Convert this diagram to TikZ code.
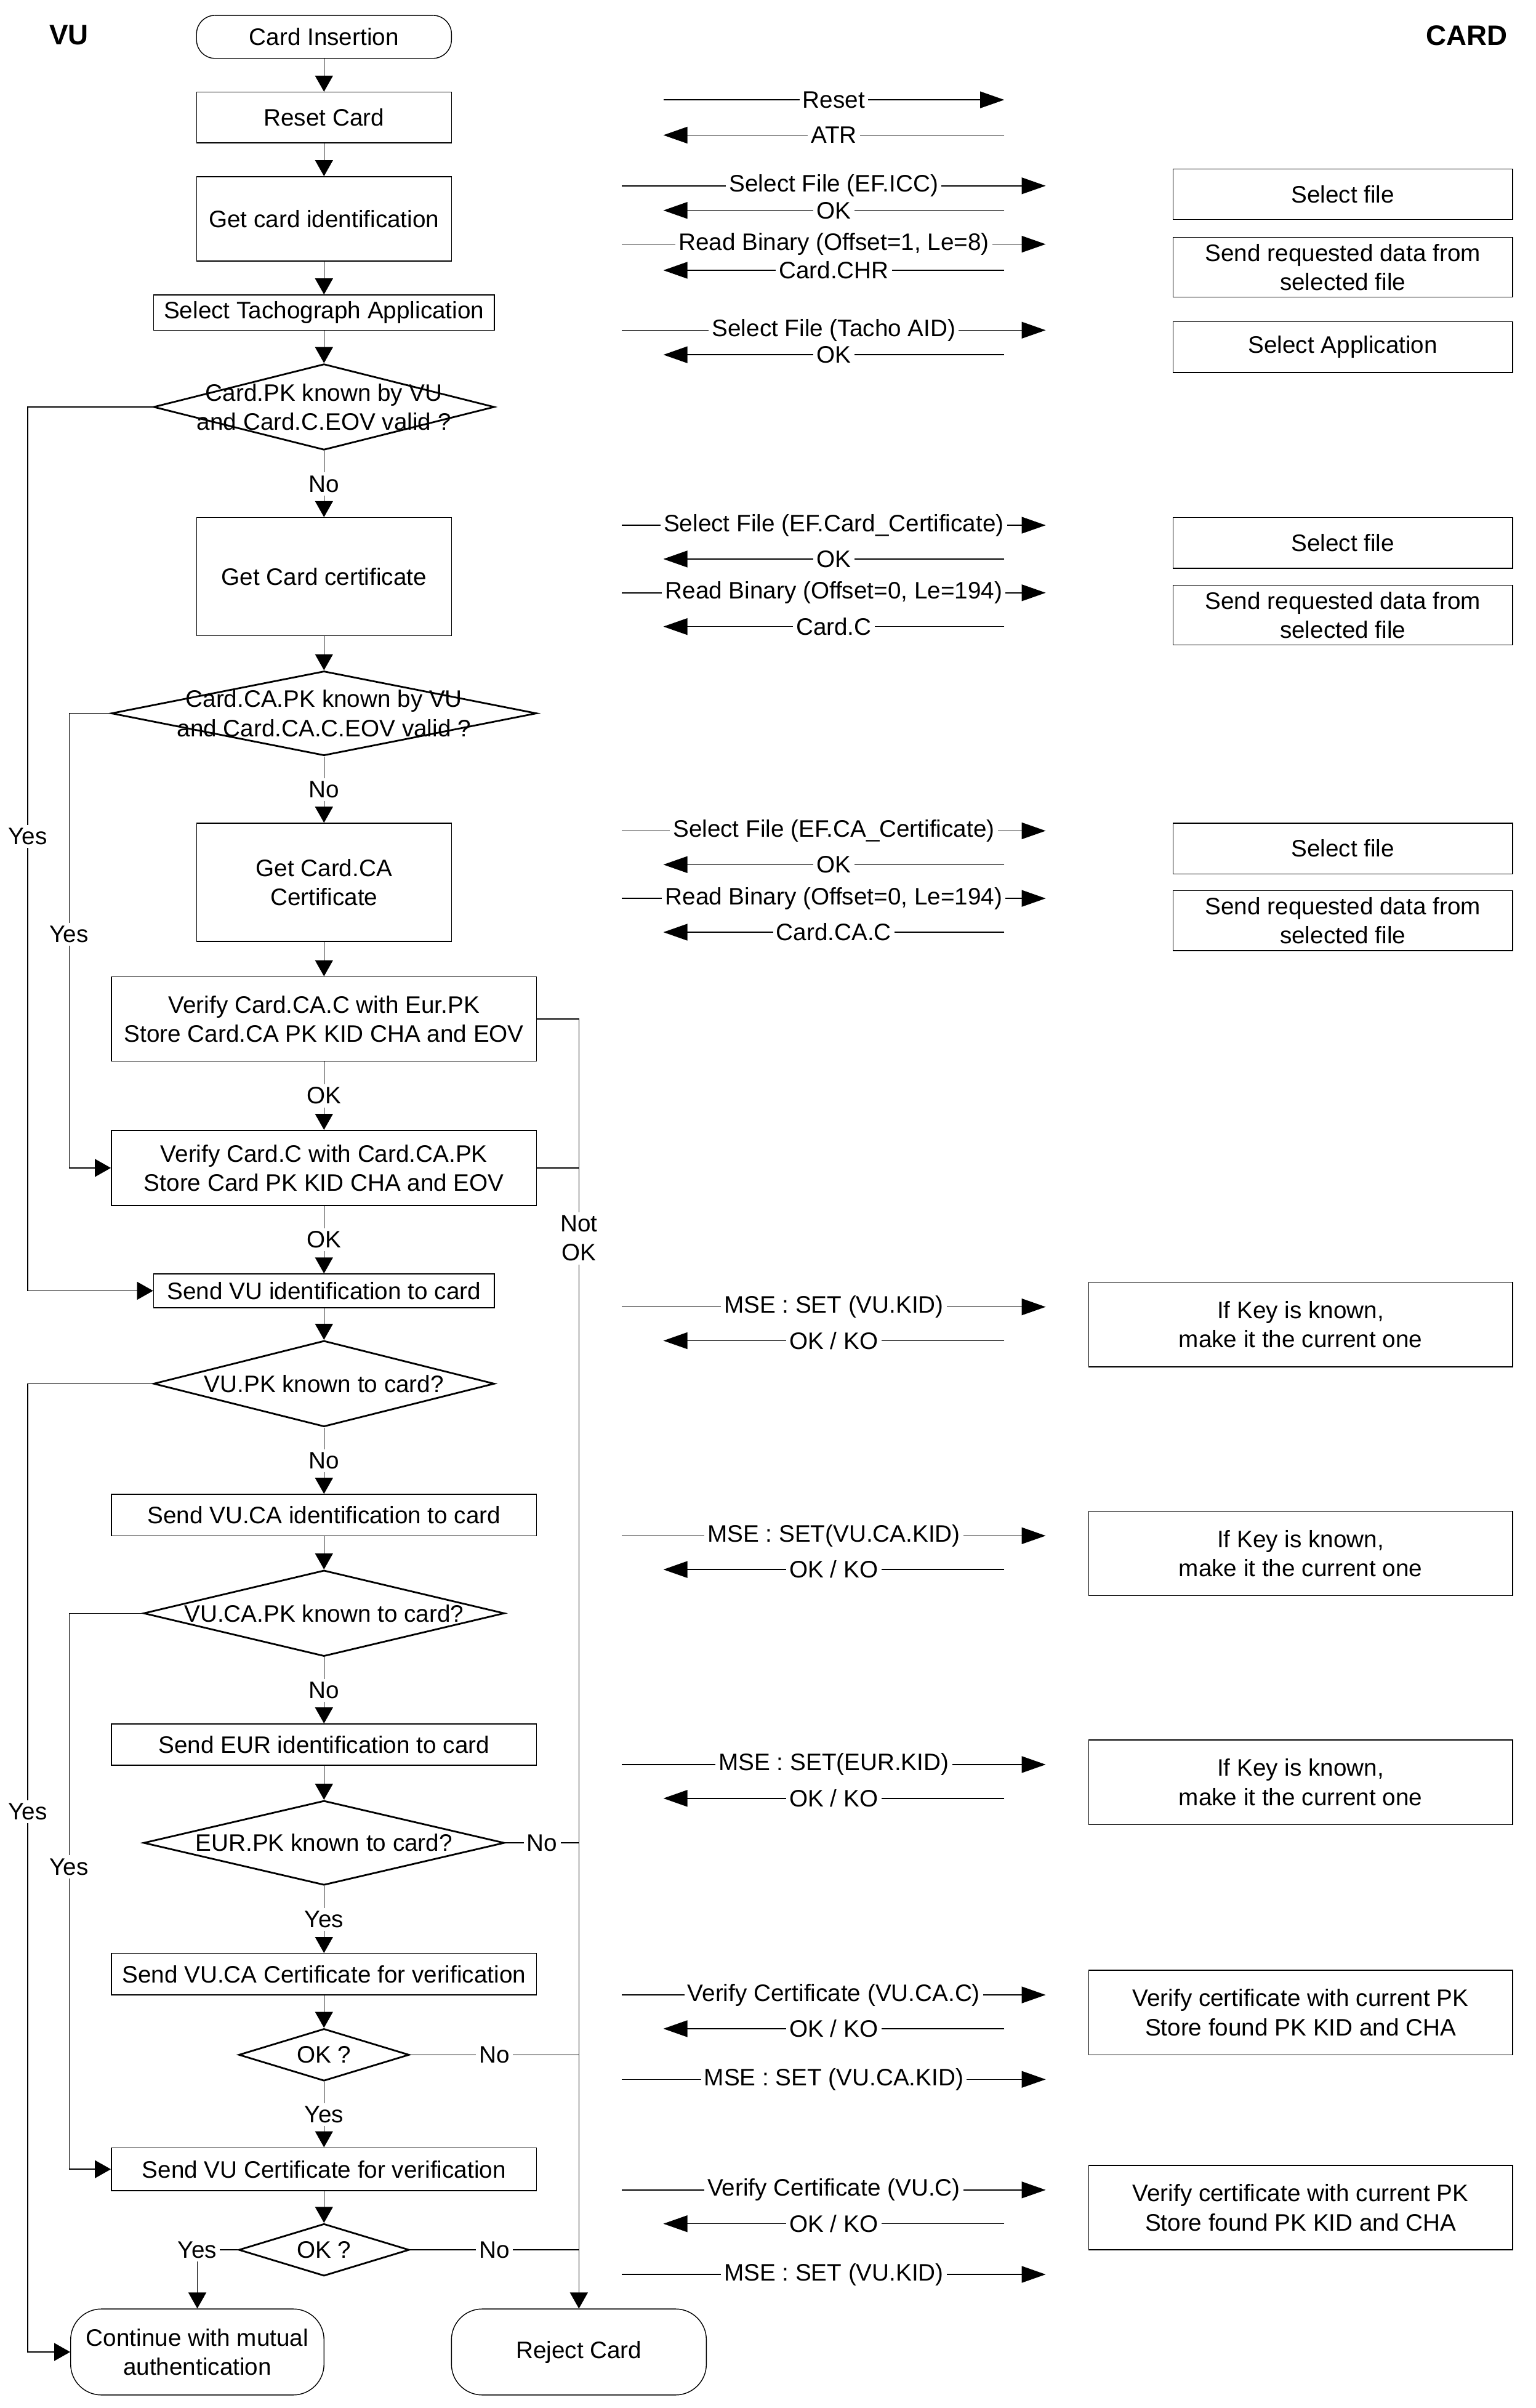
\documentclass[tikz,border=0pt]{standalone}
\usepackage{fontspec}
\setmainfont{Liberation Sans}
\usetikzlibrary{arrows.meta,positioning,shapes.geometric}
\def\un{0.02494cm}

\begin{document}
\begin{tikzpicture}[x=\un, y=-\un, font=\fontsize{11}{13.5}\selectfont]
  \tikzstyle{box}=[draw, thin, align=center, inner sep=1pt]
  \tikzstyle{term}=[draw, thin, align=center, inner sep=1pt]
  \tikzstyle{dec}=[draw, diamond, line width=0.8pt, inner sep=0pt]
  \tikzstyle{cardbox}=[draw, thin, align=center, inner sep=1pt]
  \tikzstyle{lbl}=[fill=white, align=center, inner sep=1.5pt]
  \tikzstyle{arr}=[-{Triangle[length=0.26cm,width=0.29cm]}, thin]
  \tikzstyle{msg}=[-{Triangle[length=0.39cm,width=0.27cm]}, thin]
  \tikzstyle{head}=[font=\fontsize{13}{15}\selectfont\bfseries]
  \useasboundingbox (0,0) rectangle (1000,1568);

  \node[head] (vu) at (45,23) {VU};
  \node[head] (card) at (955,23) {CARD};

  % VU side
  \node[term, rounded corners=0.3cm, minimum width=166*\un, minimum height=28*\un] (start) at (211,24) {Card Insertion};
  \node[box, minimum width=166*\un, minimum height=33*\un] (reset) at (211,76.5) {Reset Card};
  \node[box, minimum width=166*\un, minimum height=55*\un] (getid) at (211,142.5) {Get card identification};
  \node[box, minimum width=222*\un, minimum height=23*\un] (selapp) at (211,203.5) {Select Tachograph Application};
  \node[dec, minimum width=222*\un, minimum height=56*\un,
        label={[align=center]center:Card.PK known by VU\\and Card.C.EOV valid ?}] (dpk) at (211,265) {};
  \node[box, minimum width=166*\un, minimum height=77*\un] (getc) at (211,375.5) {Get Card certificate};
  \node[dec, minimum width=277*\un, minimum height=55*\un,
        label={[align=center]center:Card.CA.PK known by VU\\and Card.CA.C.EOV valid ?}] (dca) at (211,464.5) {};
  \node[box, minimum width=166*\un, minimum height=77*\un] (getca) at (211,574.5) {Get Card.CA\\Certificate};
  \node[box, minimum width=277*\un, minimum height=55*\un] (vca) at (211,663.5) {Verify Card.CA.C with Eur.PK\\Store Card.CA PK KID CHA and EOV};
  \node[box, minimum width=277*\un, minimum height=49*\un] (vc) at (211,760.5) {Verify Card.C with Card.CA.PK\\Store Card PK KID CHA and EOV};
  \node[box, minimum width=222*\un, minimum height=22*\un] (svu) at (211,840.5) {Send VU identification to card};
  \node[dec, minimum width=222*\un, minimum height=56*\un,
        label={center:VU.PK known to card?}] (dvu) at (211,901) {};
  \node[box, minimum width=277*\un, minimum height=27*\un] (svuca) at (211,986.5) {Send VU.CA identification to card};
  \node[dec, minimum width=235*\un, minimum height=56*\un,
        label={center:VU.CA.PK known to card?}] (dvuca) at (211,1050.5) {};
  \node[box, minimum width=277*\un, minimum height=27*\un] (seur) at (211,1136) {Send EUR identification to card};
  \node[dec, minimum width=235*\un, minimum height=55*\un,
        label={center:EUR.PK known to card?}] (deur) at (211,1200) {};
  \node[box, minimum width=277*\un, minimum height=27*\un] (svucac) at (211,1285.5) {Send VU.CA Certificate for verification};
  \node[dec, minimum width=111*\un, minimum height=34*\un, label={center:OK ?}] (ok1) at (211,1338) {};
  \node[box, minimum width=277*\un, minimum height=28*\un] (svuc) at (211,1412.5) {Send VU Certificate for verification};
  \node[dec, minimum width=111*\un, minimum height=34*\un, label={center:OK ?}] (ok2) at (211,1465) {};
  \node[term, rounded corners=0.5cm, minimum width=165*\un, minimum height=56*\un] (cont) at (128.5,1531.5) {Continue with mutual\\authentication};
  \node[term, rounded corners=0.5cm, minimum width=166*\un, minimum height=56*\un] (rej) at (377,1531.5) {Reject Card};

  \coordinate (loopA) at (18,0);
  \coordinate (loopB) at (45,0);

  \draw[arr] (start) -- (reset);
  \draw[arr] (reset) -- (getid);
  \draw[arr] (getid) -- (selapp);
  \draw[arr] (selapp) -- (dpk);
  \draw[arr] (dpk) -- node[lbl]{No} (getc);
  \draw[arr] (getc) -- (dca);
  \draw[arr] (dca) -- node[lbl]{No} (getca);
  \draw[arr] (getca) -- (vca);
  \draw[arr] (vca) -- node[lbl]{OK} (vc);
  \draw[arr] (vc) -- node[lbl]{OK} (svu);
  \draw[arr] (svu) -- (dvu);
  \draw[arr] (dvu) -- node[lbl]{No} (svuca);
  \draw[arr] (svuca) -- (dvuca);
  \draw[arr] (dvuca) -- node[lbl]{No} (seur);
  \draw[arr] (seur) -- (deur);
  \draw[arr] (deur) -- node[lbl]{Yes} (svucac);
  \draw[arr] (svucac) -- (ok1);
  \draw[arr] (ok1) -- node[lbl]{Yes} (svuc);
  \draw[arr] (svuc) -- (ok2);

  % Yes branches on the left
  \draw[arr] (dpk.west) -- (dpk.west -| loopA) |- node[lbl, pos=0.243]{Yes} (svu.west);
  \draw[arr] (dca.west) -- (dca.west -| loopB) |- node[lbl, pos=0.243]{Yes} (vc.west);
  \draw[arr] (dvu.west) -- (dvu.west -| loopA) |- node[lbl, pos=0.221]{Yes} (cont.west);
  \draw[arr] (dvuca.west) -- (dvuca.west -| loopB) |- node[lbl, pos=0.228]{Yes} (svuc.west);
  \draw[arr] (ok2.west) -| node[lbl]{Yes} (cont.north);

  % failures to Reject Card
  \draw[arr] (vca.east) -| node[lbl, pos=0.585]{Not\\OK} (rej.north);
  \draw (vc.east) -- (vc.east -| rej.north);
  \draw (deur.east) -- node[lbl]{No} (deur.east -| rej.north);
  \draw (ok1.east) -- node[lbl]{No} (ok1.east -| rej.north);
  \draw (ok2.east) -- node[lbl]{No} (ok2.east -| rej.north);

  % commands VU -> card
  \coordinate (rsA) at (432,65);
  \coordinate (rsB) at (654,65);
  \draw[msg] (rsA) -- node[lbl]{Reset} (rsB);
  \foreach \yy/\txt in {121/Select File (EF.ICC), 159/{Read Binary (Offset=1, Le=8)},
      215/Select File (Tacho AID), 342/Select File (EF.Card\_Certificate),
      386/{Read Binary (Offset=0, Le=194)}, 541/Select File (EF.CA\_Certificate),
      585/{Read Binary (Offset=0, Le=194)}, 851/MSE : SET (VU.KID),
      1000/MSE : SET(VU.CA.KID), 1149/MSE : SET(EUR.KID),
      1299/Verify Certificate (VU.CA.C), 1354/MSE : SET (VU.CA.KID),
      1426/Verify Certificate (VU.C), 1481/MSE : SET (VU.KID)}
  {
    \coordinate (q\yy) at (405,\yy);
    \coordinate (qe\yy) at (681,\yy);
    \draw[msg] (q\yy) -- node[lbl]{\txt} (qe\yy);
  }
  % responses card -> VU
  \foreach \yy/\txt in {88/ATR, 137/OK, 176/Card.CHR, 231/OK, 364/OK, 408/Card.C,
      563/OK, 607/Card.CA.C, 873/{OK / KO}, 1022/{OK / KO}, 1171/{OK / KO},
      1321/{OK / KO}, 1448/{OK / KO}}
  {
    \coordinate (r\yy) at (654,\yy);
    \coordinate (re\yy) at (432,\yy);
    \draw[msg] (r\yy) -- node[lbl]{\txt} (re\yy);
  }

  % card side
  \node[cardbox, minimum width=221*\un, minimum height=33*\un] (c1) at (874.5,126.5) {Select file};
  \node[cardbox, minimum width=221*\un, minimum height=39*\un] (c2) at (874.5,174) {Send requested data from\\selected file};
  \node[cardbox, minimum width=221*\un, minimum height=33*\un] (c3) at (874.5,226) {Select Application};
  \node[cardbox, minimum width=221*\un, minimum height=33*\un] (c4) at (874.5,353.5) {Select file};
  \node[cardbox, minimum width=221*\un, minimum height=39*\un] (c5) at (874.5,400.5) {Send requested data from\\selected file};
  \node[cardbox, minimum width=221*\un, minimum height=33*\un] (c6) at (874.5,552.5) {Select file};
  \node[cardbox, minimum width=221*\un, minimum height=39*\un] (c7) at (874.5,599.5) {Send requested data from\\selected file};
  \node[cardbox, minimum width=276*\un, minimum height=55*\un] (k1) at (847,862.5) {If Key is known,\\make it the current one};
  \node[cardbox, minimum width=276*\un, minimum height=55*\un] (k2) at (847,1011.5) {If Key is known,\\make it the current one};
  \node[cardbox, minimum width=276*\un, minimum height=55*\un] (k3) at (847,1160.5) {If Key is known,\\make it the current one};
  \node[cardbox, minimum width=276*\un, minimum height=55*\un] (v1) at (847,1310.5) {Verify certificate with current PK\\Store found PK KID and CHA};
  \node[cardbox, minimum width=276*\un, minimum height=55*\un] (v2) at (847,1437.5) {Verify certificate with current PK\\Store found PK KID and CHA};
\end{tikzpicture}
\end{document}
